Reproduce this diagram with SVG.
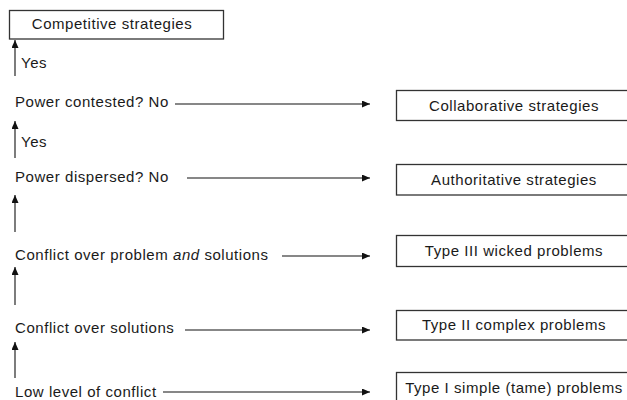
<svg xmlns="http://www.w3.org/2000/svg" width="627" height="400" viewBox="0 0 627 400">
<defs>
<marker id="ah" viewBox="0 0 8 7" refX="8" refY="3.5" markerWidth="8" markerHeight="7" markerUnits="userSpaceOnUse" orient="auto">
<path d="M0,0 L8,3.5 L0,7 Z" fill="#111"/>
</marker>
<style>
text{font-family:"Liberation Sans",Arial,sans-serif;font-size:15px;letter-spacing:0.55px;fill:#1a1a1a}
.box{fill:#fff;stroke:#333;stroke-width:1.3}
.c{text-anchor:middle}
.con line{stroke:#111;stroke-width:1.1;marker-end:url(#ah)}
</style>
</defs>
<rect width="627" height="400" fill="#fff"/>
<g id="competitive"><rect class="box" x="9.5" y="10.5" width="214" height="28.5"/><text class="c" x="112" y="29">Competitive strategies</text></g>
<g id="collaborative"><rect class="box" x="396.5" y="90.5" width="240" height="30"/><text class="c" x="514" y="111">Collaborative strategies</text></g>
<g id="authoritative"><rect class="box" x="396.5" y="164.5" width="240" height="30.5"/><text class="c" x="514" y="185">Authoritative strategies</text></g>
<g id="type3"><rect class="box" x="396.5" y="235.5" width="240" height="31"/><text class="c" x="514" y="256">Type III wicked problems</text></g>
<g id="type2"><rect class="box" x="396.5" y="310.5" width="240" height="29.5"/><text class="c" x="514" y="330">Type II complex problems</text></g>
<g id="type1"><rect class="box" x="396.5" y="372.5" width="240" height="40"/><text class="c" x="514" y="393">Type I simple (tame) problems</text></g>
<g id="power-contested"><text x="15" y="107">Power contested? No</text></g>
<g id="power-dispersed"><text x="15" y="182">Power dispersed? No</text></g>
<g id="conflict-both"><text x="15" y="260">Conflict over problem <tspan font-style="italic">and</tspan> solutions</text></g>
<g id="conflict-solutions"><text x="15" y="333">Conflict over solutions</text></g>
<g id="low-conflict"><text x="15" y="397">Low level of conflict</text></g>
<g id="connectors" class="con">
<line x1="15" y1="76" x2="15" y2="40"/>
<line x1="15" y1="158" x2="15" y2="121"/>
<line x1="15" y1="232" x2="15" y2="195"/>
<line x1="15" y1="305" x2="15" y2="267"/>
<line x1="15" y1="378" x2="15" y2="342"/>
<line x1="175" y1="104" x2="370" y2="104"/>
<line x1="187" y1="178" x2="370" y2="178"/>
<line x1="282" y1="256" x2="370" y2="256"/>
<line x1="185" y1="330" x2="370" y2="330"/>
<line x1="163" y1="392" x2="370" y2="392"/>
</g>
<g id="labels"><text x="21" y="68">Yes</text><text x="21" y="147">Yes</text></g>
</svg>
